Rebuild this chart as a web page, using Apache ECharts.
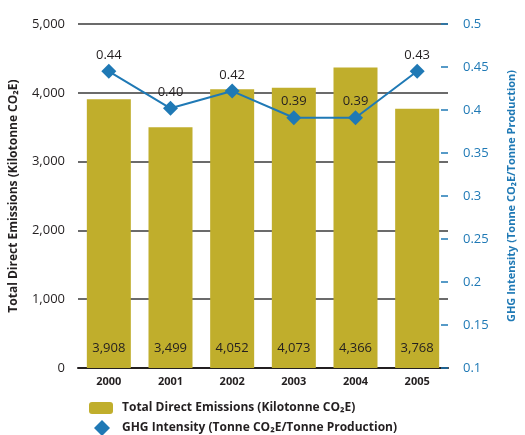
<!DOCTYPE html>
<html>
<head>
<meta charset="utf-8">
<script src="https://cdn.jsdelivr.net/npm/echarts@6/dist/echarts.min.js"></script>
<style>
  html, body { margin: 0; padding: 0; background: #fff; }
  #chart { width: 525px; height: 435px; }
</style>
</head>
<body>
<div id="chart"></div>
<script>
  // data
  var years = ['2000', '2001', '2002', '2003', '2004', '2005'];
  var emissions = [3908, 3499, 4052, 4073, 4366, 3768];
  var intensity = [0.445, 0.402, 0.422, 0.391, 0.391, 0.445];
  var intensityLabels = ['0.44', '0.40', '0.42', '0.39', '0.39', '0.43'];

  var olive = '#c0ae2c';
  var blue = '#1f79b5';
  var dark = '#231f20';
  var font = 'Open Sans';

  var myChart = echarts.init(document.getElementById('chart'));
  myChart.setOption({
    animation: false,
    textStyle: { fontFamily: font },
    grid: { left: 78, right: 63, top: 24, bottom: 67 },
    legend: [
      {
        data: ['Total Direct Emissions (Kilotonne CO₂E)'],
        left: 84, top: 397,
        itemWidth: 24, itemHeight: 12,
        textStyle: { color: dark, fontSize: 12, fontWeight: 'bold', fontFamily: font, padding: [0, 0, 0, 4] }
      },
      {
        data: [{ name: 'GHG Intensity (Tonne CO₂E/Tonne Production)', icon: 'diamond' }],
        left: 89, top: 415,
        itemWidth: 16, itemHeight: 16,
        textStyle: { color: dark, fontSize: 12, fontWeight: 'bold', fontFamily: font, padding: [0, 0, 0, 7] }
      }
    ],
    xAxis: {
      type: 'category',
      data: years,
      axisLine: { lineStyle: { color: dark, width: 2 } },
      axisTick: { show: false },
      axisLabel: { color: dark, fontSize: 11, fontWeight: 'bold', margin: 8 }
    },
    yAxis: [
      {
        type: 'value',
        min: 0, max: 5000, interval: 1000,
        name: 'Total Direct Emissions (Kilotonne CO₂E)',
        nameLocation: 'middle', nameRotate: 90, nameGap: 58,
        nameTextStyle: { color: dark, fontSize: 12, fontWeight: 'bold' },
        axisLine: { show: false },
        axisTick: { show: false },
        axisLabel: {
          color: dark, fontSize: 13, margin: 13,
          formatter: function (v) { return v.toLocaleString('en-US'); }
        },
        splitLine: { lineStyle: { color: '#3a3a3a', width: 1.5 } }
      },
      {
        type: 'value',
        min: 0.1, max: 0.5, interval: 0.05,
        position: 'right',
        name: 'GHG Intensity (Tonne CO₂E/Tonne Production)',
        nameLocation: 'middle', nameRotate: 90, nameGap: 58,
        nameTextStyle: { color: blue, fontSize: 11, fontWeight: 'bold' },
        axisLine: { show: false },
        axisTick: { show: true, inside: true, length: 7, lineStyle: { color: blue, width: 1.5 } },
        axisLabel: {
          color: blue, fontSize: 13, margin: 15,
          formatter: function (v) { return String(parseFloat(v.toFixed(2))); }
        },
        splitLine: { show: false }
      }
    ],
    series: [
      {
        name: 'Total Direct Emissions (Kilotonne CO₂E)',
        type: 'bar',
        data: emissions,
        barWidth: 44,
        itemStyle: { color: olive },
        label: {
          show: true, position: 'insideBottom', distance: 13,
          color: dark, fontSize: 13,
          formatter: function (p) { return p.value.toLocaleString('en-US'); }
        },
        z: 2
      },
      {
        name: 'GHG Intensity (Tonne CO₂E/Tonne Production)',
        type: 'line',
        yAxisIndex: 1,
        data: intensity,
        symbol: 'diamond',
        symbolSize: 15,
        lineStyle: { color: blue, width: 2 },
        itemStyle: { color: blue },
        label: {
          show: true, position: 'top', distance: 2,
          color: dark, fontSize: 13,
          formatter: function (p) { return intensityLabels[p.dataIndex]; }
        },
        z: 3
      }
    ]
  });
</script>
</body>
</html>
